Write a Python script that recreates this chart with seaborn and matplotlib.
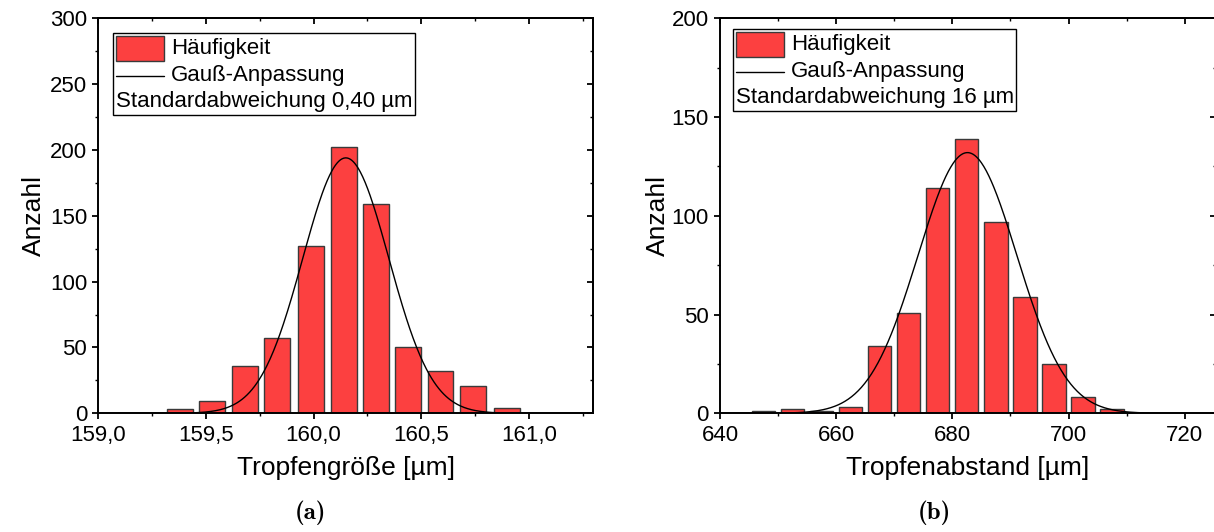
import numpy as np
import pandas as pd
import matplotlib
matplotlib.use("Agg")
import matplotlib.pyplot as plt
import seaborn as sns
from matplotlib.ticker import MultipleLocator, FuncFormatter
from matplotlib.offsetbox import AnchoredOffsetbox, VPacker, HPacker, TextArea, DrawingArea
from matplotlib.patches import Rectangle
from matplotlib.lines import Line2D

# Droplet size histogram: bin centres [µm] and counts
size_centers = [159.38, 159.53, 159.68, 159.83, 159.99, 160.14, 160.29, 160.44, 160.59, 160.74, 160.90]
size_counts = [3, 9, 36, 57, 127, 202, 159, 50, 32, 21, 4]
# Gaussian fit of the droplet sizes (centre, sigma, peak height)
size_fit_xc = 160.15
size_fit_sigma = 0.20
size_fit_peak = 194

# Droplet spacing histogram: bin centres [µm] and counts
gap_centers = [647.5, 652.5, 657.5, 662.5, 667.5, 672.5, 677.5, 682.5, 687.5, 692.5, 697.5, 702.5, 707.5]
gap_counts = [1, 2, 1, 3, 34, 51, 114, 139, 97, 59, 25, 8, 2]
# Gaussian fit of the droplet spacing
gap_fit_xc = 682.6
gap_fit_sigma = 8.5
gap_fit_peak = 132

size_note = "Standardabweichung 0,40 µm"
gap_note = "Standardabweichung 16 µm"

BAR_RED = "#FC4040"
BAR_EDGE = "#3a3a3a"

TICK_FS = 16
KEY_FS = 16
LABEL_FS = 19

sns.set_style("ticks")
plt.rcParams["font.family"] = ["Liberation Sans", "DejaVu Sans"]
plt.rcParams["axes.linewidth"] = 1.4
plt.rcParams["text.color"] = "black"
plt.rcParams["axes.labelcolor"] = "black"
plt.rcParams["xtick.color"] = "black"
plt.rcParams["ytick.color"] = "black"

W, H = 1214, 532
fig = plt.figure(figsize=(W / 100, H / 100), dpi=100)


def px_axes(x0, x1, y_top, y_bot):
    return fig.add_axes([x0 / W, 1 - y_bot / H, (x1 - x0) / W, (y_bot - y_top) / H])


def gauss(x, xc, sigma, peak):
    return peak * np.exp(-((x - xc) ** 2) / (2 * sigma ** 2))


def add_key(ax, note, anchor, fs=KEY_FS):
    patch_box = DrawingArea(35, 18, 0, 0)
    patch_box.add_artist(Rectangle((0, 0), 35, 18, facecolor=BAR_RED,
                                   edgecolor=BAR_EDGE, linewidth=1.0))
    line_box = DrawingArea(35, 18, 0, 0)
    line_box.add_artist(Line2D([0, 35], [9, 9], color="black", linewidth=1.0))
    tp = dict(size=fs, color="black")
    row1 = HPacker(children=[patch_box, TextArea("Häufigkeit", textprops=tp)],
                   align="center", pad=0, sep=5)
    row2 = HPacker(children=[line_box, TextArea("Gauß-Anpassung", textprops=tp)],
                   align="center", pad=0, sep=5)
    row3 = TextArea(note, textprops=tp)
    stack = VPacker(children=[row1, row2, row3], align="left", pad=0, sep=2)
    box = AnchoredOffsetbox(loc="upper left", child=stack, pad=0.12, borderpad=0,
                            frameon=True, bbox_to_anchor=anchor,
                            bbox_transform=ax.transAxes, prop=dict(size=fs))
    box.patch.set_edgecolor("black")
    box.patch.set_linewidth(1.0)
    ax.add_artist(box)


def style_axes(ax, xlim, ylim, xmaj, xmin, ymaj, ymin, xfmt):
    ax.set_xlim(*xlim)
    ax.set_ylim(*ylim)
    ax.xaxis.set_major_locator(MultipleLocator(xmaj))
    ax.xaxis.set_minor_locator(MultipleLocator(xmin))
    ax.yaxis.set_major_locator(MultipleLocator(ymaj))
    ax.yaxis.set_minor_locator(MultipleLocator(ymin))
    ax.xaxis.set_major_formatter(FuncFormatter(xfmt))
    ax.yaxis.set_major_formatter(FuncFormatter(lambda v, p: f"{v:.0f}"))
    ax.tick_params(which="both", direction="out", top=False, right=False,
                   labelsize=TICK_FS, colors="black")
    ax.tick_params(which="major", length=4, width=1.3)
    ax.tick_params(which="minor", length=2, width=1.0)
    ax.tick_params(axis="x", pad=4.5)
    ax.tick_params(axis="y", pad=4)
    for s in ax.spines.values():
        s.set_visible(True)
        s.set_color("black")
        s.set_linewidth(1.4)
    # opposite axes carry inward ticks without labels
    top = ax.secondary_xaxis("top")
    top.xaxis.set_major_locator(MultipleLocator(xmaj))
    top.xaxis.set_minor_locator(MultipleLocator(xmin))
    top.tick_params(which="both", direction="in", labeltop=False)
    top.tick_params(which="major", length=4, width=1.3)
    top.tick_params(which="minor", length=2, width=1.0)
    right = ax.secondary_yaxis("right")
    right.yaxis.set_major_locator(MultipleLocator(ymaj))
    right.yaxis.set_minor_locator(MultipleLocator(ymin))
    right.tick_params(which="both", direction="in", labelright=False)
    right.tick_params(which="major", length=4, width=1.3)
    right.tick_params(which="minor", length=2, width=1.0)


def draw_panel(ax, centers, counts, xc, sigma, peak, xlim):
    df = pd.DataFrame({"x": centers, "n": counts})
    sns.barplot(data=df, x="x", y="n", native_scale=True, width=0.8,
                color=BAR_RED, saturation=1, edgecolor=BAR_EDGE, linewidth=1.0, ax=ax)
    xs = np.linspace(xlim[0], xlim[1], 600)
    fit = pd.DataFrame({"x": xs, "y": gauss(xs, xc, sigma, peak)})
    sns.lineplot(data=fit, x="x", y="y", color="black", linewidth=1.0, ax=ax)


# (a) droplet size
ax1 = px_axes(98.3, 593.3, 18.3, 413.3)
xlim1 = (159.0, 161.3)
draw_panel(ax1, size_centers, size_counts, size_fit_xc, size_fit_sigma, size_fit_peak, xlim1)
style_axes(ax1, xlim1, (0, 300), 0.5, 0.25, 50, 25,
           lambda v, p: f"{v:.1f}".replace(".", ","))
ax1.set_xlabel("Tropfengröße [µm]", fontsize=LABEL_FS)
ax1.set_ylabel("Anzahl", fontsize=LABEL_FS)
ax1.xaxis.set_label_coords(0.5, -0.108)
ax1.yaxis.set_label_coords(-0.105, 0.5)
add_key(ax1, size_note, (0.03, 0.963))

# (b) droplet spacing
ax2 = px_axes(720.0, 1215.5, 18.3, 413.3)
xlim2 = (640, 725.3)
draw_panel(ax2, gap_centers, gap_counts, gap_fit_xc, gap_fit_sigma, gap_fit_peak, xlim2)
style_axes(ax2, xlim2, (0, 200), 20, 10, 50, 25, lambda v, p: f"{v:.0f}")
ax2.set_xlabel("Tropfenabstand [µm]", fontsize=LABEL_FS)
ax2.set_ylabel("Anzahl", fontsize=LABEL_FS)
ax2.xaxis.set_label_coords(0.5, -0.108)
ax2.yaxis.set_label_coords(-0.100, 0.5)
add_key(ax2, gap_note, (0.026, 0.973))

# panel captions
fig.text(310 / W, 1 - 513 / H, "(a)", family="cmb10", fontsize=18, ha="center", va="center")
fig.text(934 / W, 1 - 513 / H, "(b)", family="cmb10", fontsize=18, ha="center", va="center")

fig.savefig("out.png", dpi=100)
